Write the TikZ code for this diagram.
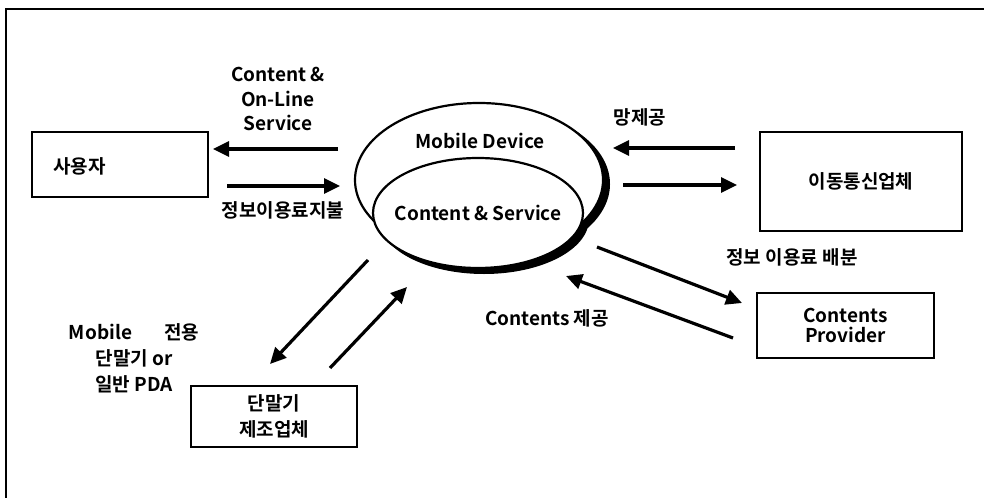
\documentclass[tikz,border=0pt]{standalone}
\usepackage{fontspec}
\setmainfont{Noto Sans CJK KR}[BoldFont={* Bold}]
\usetikzlibrary{arrows.meta}
\begin{document}
\begin{tikzpicture}[x=1pt,y=-1pt,
  box/.style={draw,line width=1.8pt,inner sep=0pt},
  lbl/.style={font=\fontsize{19}{25.5}\selectfont\bfseries,align=center,inner sep=0pt},
  arr/.style={line width=3.2pt,-{Triangle[length=16pt,width=15pt]}},
  ell/.style={line width=2.2pt}]
\useasboundingbox (0,0) rectangle (984,498);
\fill[white] (0,0) rectangle (984,498);
% frame
\draw[line width=2pt] (984,8.5) -- (6,8.5) -- (6,498);
% boxes
\node[box,minimum width=176pt,minimum height=65pt] (user) at (120,164.5) {};
\node[lbl,anchor=west] (usert) at (53,166) {사용자};
\node[box,minimum width=202pt,minimum height=99pt] (mno) at (861,181.5) {};
\node[lbl] at (mno.center) {이동통신업체};
\node[box,minimum width=177pt,minimum height=65pt] (cp) at (845.5,325.5) {};
\node[lbl,font=\fontsize{19}{20}\selectfont\bfseries] at (cp.center) {Contents\\Provider};
\node[box,minimum width=166pt,minimum height=61pt] (mfr) at (274,416.5) {};
\node[lbl,font=\fontsize{19}{26}\selectfont\bfseries] at (mfr.center) {단말기\\제조업체};
% ellipses with shadow
\fill[black] (486,184) ellipse [x radius=124,y radius=77];
\fill[black] (484,219) ellipse [x radius=105,y radius=55];
\filldraw[ell,fill=white] (479,180) ellipse [x radius=124,y radius=77];
\filldraw[ell,fill=white] (478,213) ellipse [x radius=105,y radius=55];
\node[lbl] (md) at (480,141) {Mobile Device};
\node[lbl] (cs) at (478,213) {Content \& Service};
% coordinates for arrow ends
\coordinate (a1s) at (338,149); \coordinate (a1e) at (213,149);
\coordinate (a2s) at (227,186); \coordinate (a2e) at (340,186);
\coordinate (b1s) at (735,148); \coordinate (b1e) at (613,148);
\coordinate (b2s) at (623,185); \coordinate (b2e) at (737,185);
\coordinate (c1s) at (597,247); \coordinate (c1e) at (742,303);
\coordinate (c2s) at (733,338); \coordinate (c2e) at (566,276);
\coordinate (d1s) at (368,260); \coordinate (d1e) at (270,364);
\coordinate (d2s) at (330,368); \coordinate (d2e) at (407,287);
\draw[arr] (a1s) -- (a1e);
\draw[arr] (a2s) -- (a2e);
\draw[arr] (b1s) -- (b1e);
\draw[arr] (b2s) -- (b2e);
\draw[arr] (c1s) -- (c1e);
\draw[arr] (c2s) -- (c2e);
\draw[arr] (d1s) -- (d1e);
\draw[arr] (d2s) -- (d2e);
% labels
\node[lbl,font=\fontsize{19}{24.5}\selectfont\bfseries] at (278,99) {Content \&\\On-Line\\Service};
\node[lbl] at (283,210) {정보이용료지불};
\node[lbl] at (640,117) {망제공};
\node[lbl] at (792,257) {정보 이용료 배분};
\node[lbl] at (547,318) {Contents 제공};
\node[lbl,font=\fontsize{19}{26}\selectfont\bfseries] at (134,358) {Mobile\hspace{32pt}전용\\단말기 or\\일반 PDA};
\end{tikzpicture}
\end{document}
